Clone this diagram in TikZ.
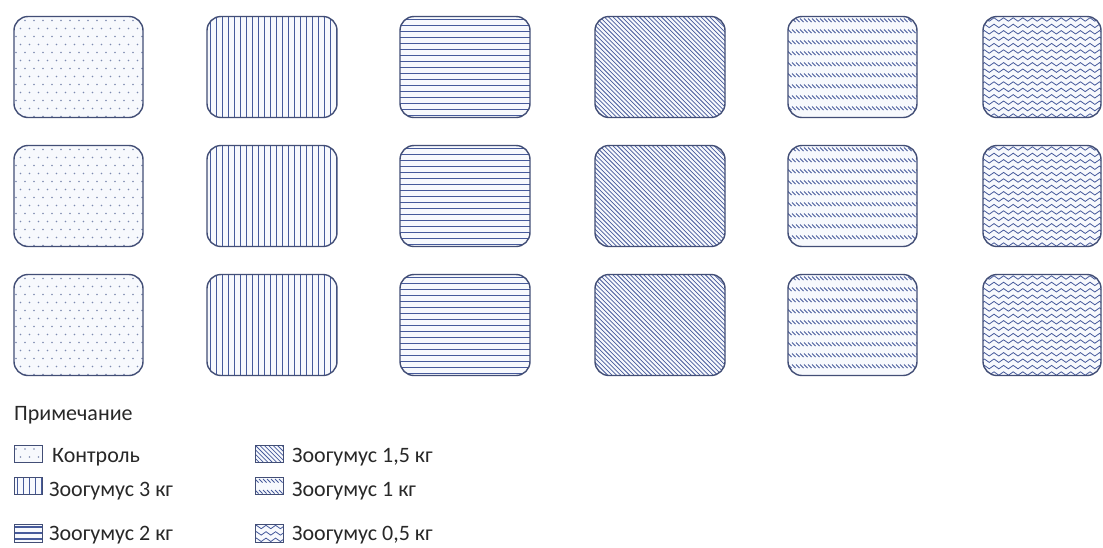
\documentclass[tikz,border=0pt]{standalone}
\usepackage{fontspec}
\setmainfont{Carlito}
\definecolor{boxline}{RGB}{66,78,118}
\definecolor{patcol}{RGB}{70,90,155}
\definecolor{dotcol}{RGB}{125,138,176}
\definecolor{boxfill}{RGB}{247,249,253}
\definecolor{txt}{RGB}{40,40,40}
\tikzset{
  box/.style={draw=boxline, line width=1.4pt, rounded corners=14pt, rectangle, inner sep=0pt, outer sep=0pt},
  lbox/.style={draw=boxline, line width=0.9pt, rectangle, inner sep=0pt, outer sep=0pt},
  patline/.style={draw=patcol, line width=0.9pt},
  lbl/.style={anchor=base west, inner sep=0pt, font=\fontsize{22}{25}\selectfont, text=txt},
}
% pattern macros: #1 x0 (left), #2 y0 (top), #3 width, #4 height
\newcommand\Pinit[4]{\pgfmathsetmacro\Pxo{#1}\pgfmathsetmacro\Pyo{#2}\pgfmathsetmacro\Pw{#3}\pgfmathsetmacro\Ph{#4}}
\newcommand\patDots[4]{\Pinit{#1}{#2}{#3}{#4}%
  \pgfmathtruncatemacro\Pm{\Ph/8+1}\pgfmathtruncatemacro\Pn{\Pw/9+1}%
  \foreach \j in {0,...,\Pm}{\pgfmathsetmacro\Poff{mod(\j,2)*4.5}%
    \foreach \i in {0,...,\Pn}{\fill[dotcol] (\Pxo+2+\Poff+\i*9,\Pyo+4+\j*8) circle (0.8);}}}
\newcommand\patVert[4]{\Pinit{#1}{#2}{#3}{#4}%
  \pgfmathtruncatemacro\Pn{\Pw/6+1}%
  \foreach \i in {0,...,\Pn}{\draw[patline, line width=1pt] (\Pxo+3.5+\i*6,\Pyo) -- (\Pxo+3.5+\i*6,\Pyo+\Ph);}}
\newcommand\patHor[4]{\Pinit{#1}{#2}{#3}{#4}%
  \pgfmathtruncatemacro\Pn{\Ph/6+1}%
  \foreach \i in {0,...,\Pn}{\draw[patline, line width=1.1pt] (\Pxo,\Pyo+3+\i*6) -- (\Pxo+\Pw,\Pyo+3+\i*6);}}
\newcommand\patDiag[4]{\Pinit{#1}{#2}{#3}{#4}%
  \pgfmathtruncatemacro\Pm{\Ph/4.4+1}\pgfmathtruncatemacro\Pn{\Pw/4.4+1}%
  \foreach \i in {-\Pm,...,\Pn}{\draw[patline, line width=0.75pt] (\Pxo+\i*4.4,\Pyo) -- ++(\Ph,\Ph);}}
\newcommand\patBand[4]{\Pinit{#1}{#2}{#3}{#4}%
  \pgfmathtruncatemacro\Pm{\Ph/11+1}\pgfmathtruncatemacro\Pn{\Pw/4+1}%
  \foreach \j in {0,...,\Pm}{\draw[patline, line width=0.8pt] \foreach \i in {0,...,\Pn}{(\Pxo+\i*4,\Pyo+2+\j*11) -- ++(3.6,3.6)};}}
\newcommand\patWave[4]{\Pinit{#1}{#2}{#3}{#4}%
  \pgfmathtruncatemacro\Pm{\Ph/6.4+1}\pgfmathtruncatemacro\Pn{\Pw/9.6+1}%
  \foreach \j in {0,...,\Pm}{\draw[patline, line width=0.8pt] (\Pxo-1,\Pyo+3+\j*6.4) \foreach \k in {0,...,\Pn}{ sin ++(2.4,-1.7) cos ++(2.4,1.7) sin ++(2.4,1.7) cos ++(2.4,-1.7)};}}
% patterned rounded box: name, cx, cy, w, h, pattern
\newcommand\pbox[6]{%
  \fill[boxfill, rounded corners=14pt] (#2-#4/2,#3-#5/2) rectangle (#2+#4/2,#3+#5/2);
  \begin{scope}
    \clip[rounded corners=14pt] (#2-#4/2,#3-#5/2) rectangle (#2+#4/2,#3+#5/2);
    #6{#2-#4/2}{#3-#5/2}{#4}{#5}
  \end{scope}
  \node[box, minimum width=#4pt, minimum height=#5pt] (#1) at (#2,#3) {};}
% legend icon
\newcommand\lpbox[6]{%
  \fill[boxfill] (#2-#4/2,#3-#5/2) rectangle (#2+#4/2,#3+#5/2);
  \begin{scope}
    \clip (#2-#4/2,#3-#5/2) rectangle (#2+#4/2,#3+#5/2);
    #6{#2-#4/2}{#3-#5/2}{#4}{#5}
  \end{scope}
  \node[lbox, minimum width=#4pt, minimum height=#5pt] (#1) at (#2,#3) {};}
\begin{document}
\begin{tikzpicture}[x=1pt,y=-1pt]
\useasboundingbox (0,0) rectangle (1103,547);
\fill[white] (0,0) rectangle (1103,547);
\foreach \r/\cy in {1/67,2/196,3/325}{
  \pbox{c1r\r}{78.5}{\cy}{129}{101}{\patDots}
  \pbox{c2r\r}{272}{\cy}{130}{101}{\patVert}
  \pbox{c3r\r}{465}{\cy}{130}{101}{\patHor}
  \pbox{c4r\r}{660}{\cy}{130}{101}{\patDiag}
  \pbox{c5r\r}{852.5}{\cy}{129}{101}{\patBand}
  \pbox{c6r\r}{1042}{\cy}{118}{101}{\patWave}
}
\node[lbl] (note) at (14,420) {Примечание};
\lpbox{i1}{28}{453.5}{28}{17}{\patDots}
\lpbox{i2}{28}{485.5}{28}{17}{\patVert}
\lpbox{i3}{28}{533}{28}{18}{\patHor}
\lpbox{i4}{269}{453.5}{28}{17}{\patDiag}
\lpbox{i5}{269}{485.5}{28}{17}{\patBand}
\lpbox{i6}{269}{533}{28}{18}{\patWave}
\node[lbl] (t1) at (52,462) {Контроль};
\node[lbl] (t2) at (49,496) {Зоогумус 3 кг};
\node[lbl] (t3) at (49,540) {Зоогумус 2 кг};
\node[lbl] (t4) at (292,462) {Зоогумус 1,5 кг};
\node[lbl] (t5) at (292,496) {Зоогумус 1 кг};
\node[lbl] (t6) at (292,540) {Зоогумус 0,5 кг};
\end{tikzpicture}
\end{document}
